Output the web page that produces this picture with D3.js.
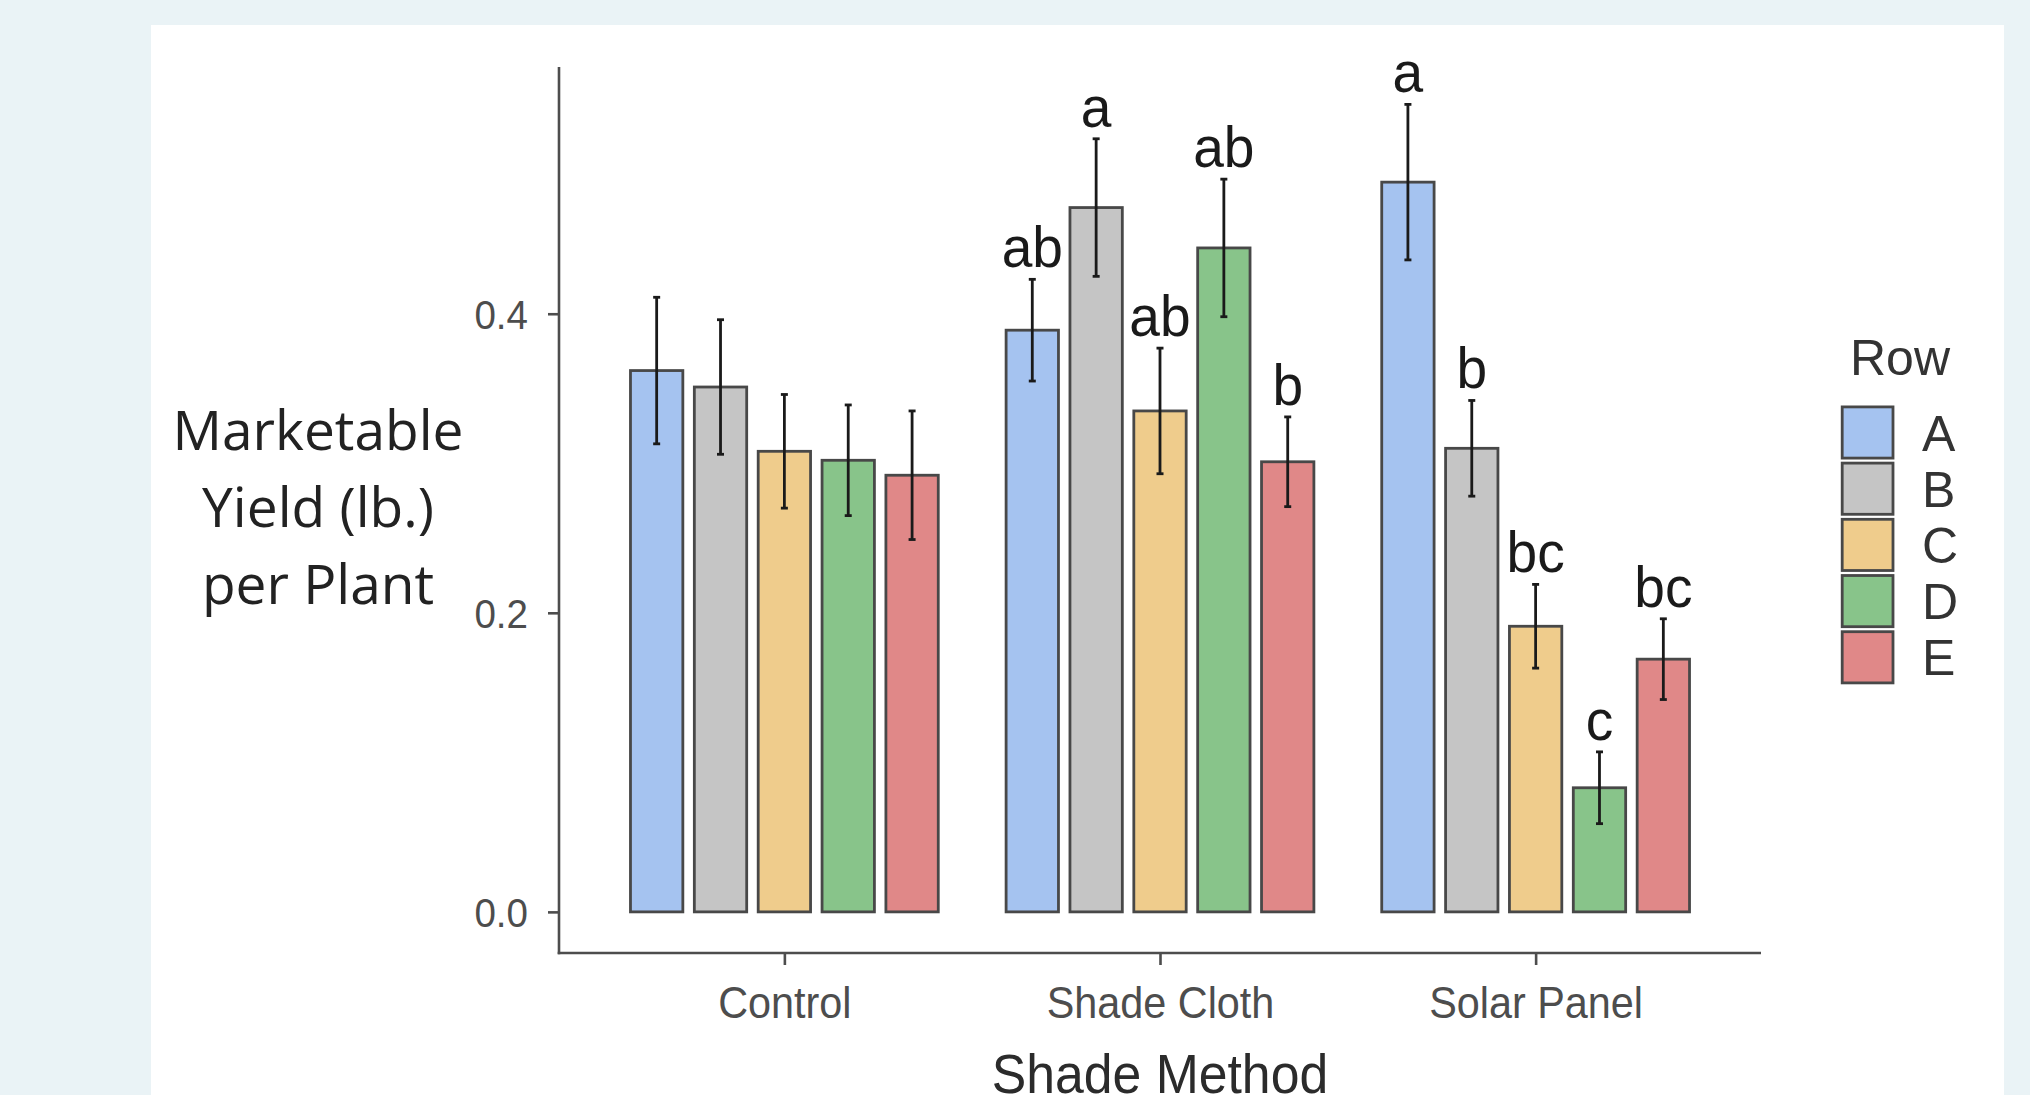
<!DOCTYPE html>
<html>
<head>
<meta charset="utf-8">
<script src="https://cdn.jsdelivr.net/npm/d3@7"></script>
<style>
  html, body { margin: 0; padding: 0; background: #EAF3F6; }
  svg { display: block; }
</style>
</head>
<body>
<svg id="chart" width="2030" height="1095"></svg>
<script>
// ---------------- data ----------------
const categories = ["Control", "Shade Cloth", "Solar Panel"];
const rows = ["A", "B", "C", "D", "E"];
const meanControl = [0.362, 0.351, 0.308, 0.302, 0.292];
const meanShadeCloth = [0.389, 0.471, 0.335, 0.444, 0.301];
const meanSolarPanel = [0.488, 0.310, 0.191, 0.083, 0.169];
const seControl = [0.049, 0.045, 0.038, 0.037, 0.043];
const seShadeCloth = [0.034, 0.046, 0.042, 0.046, 0.030];
const seSolarPanel = [0.052, 0.032, 0.028, 0.024, 0.027];
const lettersControl = ["", "", "", "", ""];
const lettersShadeCloth = ["ab", "a", "ab", "ab", "b"];
const lettersSolarPanel = ["a", "b", "bc", "c", "bc"];
const yTicks = [0.0, 0.2, 0.4];
const rowColors = ["#A5C3F0", "#C5C5C5", "#EFCC8C", "#88C48A", "#E08888"];

const means = [meanControl, meanShadeCloth, meanSolarPanel];
const ses = [seControl, seShadeCloth, seSolarPanel];
const letters = [lettersControl, lettersShadeCloth, lettersSolarPanel];

const data = [];
categories.forEach((c, i) => rows.forEach((r, j) => data.push({
  cat: c, row: r, mean: means[i][j], se: ses[i][j], letter: letters[i][j]
})));

// ---------------- layout ----------------
const svg = d3.select("#chart");
const panel = { x: 151, y: 25, w: 1853, h: 1100 };
const plot = { left: 559, right: 1761, top: 67, bottom: 953 };
const COND = 0.94;

svg.append("rect").attr("x", panel.x).attr("y", panel.y)
  .attr("width", panel.w).attr("height", panel.h).attr("fill", "#FFFFFF");

const x = d3.scalePoint().domain(categories).range([plot.left, plot.right]).padding(0.6);
const unit = x.step();
const xSub = d3.scaleBand().domain(rows).range([-0.425 * unit, 0.425 * unit]);
const barW = xSub.bandwidth() * 0.82;
const y = d3.scaleLinear().domain([-0.0275, 0.565]).range([plot.bottom, plot.top]);
const color = d3.scaleOrdinal().domain(rows).range(rowColors);

function condense(sel, f) {
  sel.each(function () {
    const n = this.getComputedTextLength();
    d3.select(this).attr("textLength", n * f).attr("lengthAdjust", "spacingAndGlyphs");
  });
}

// bars
const g = svg.append("g");
g.selectAll("rect.bar").data(data).enter().append("rect")
  .attr("class", "bar")
  .attr("x", d => x(d.cat) + xSub(d.row) + (xSub.bandwidth() - barW) / 2)
  .attr("width", barW)
  .attr("y", d => y(d.mean))
  .attr("height", d => y(0) - y(d.mean))
  .attr("fill", d => color(d.row))
  .attr("stroke", "#484848")
  .attr("stroke-width", 2.8);

// error bars
const cx = d => x(d.cat) + xSub(d.row) + xSub.bandwidth() / 2;
const eb = g.selectAll("g.eb").data(data).enter().append("g").attr("class", "eb")
  .attr("stroke", "#1A1A1A").attr("stroke-width", 2.8);
eb.append("line").attr("x1", cx).attr("x2", cx)
  .attr("y1", d => y(d.mean + d.se)).attr("y2", d => y(d.mean - d.se));
eb.append("line").attr("x1", d => cx(d) - 3.5).attr("x2", d => cx(d) + 3.5)
  .attr("y1", d => y(d.mean + d.se)).attr("y2", d => y(d.mean + d.se));
eb.append("line").attr("x1", d => cx(d) - 3.5).attr("x2", d => cx(d) + 3.5)
  .attr("y1", d => y(d.mean - d.se)).attr("y2", d => y(d.mean - d.se));

// letters
const lab = g.selectAll("text.letter").data(data.filter(d => d.letter)).enter().append("text")
  .attr("class", "letter")
  .attr("x", cx)
  .attr("y", d => y(d.mean + d.se) - 12)
  .attr("text-anchor", "middle")
  .attr("font-family", "'Liberation Sans', Arial, sans-serif")
  .attr("font-size", 58)
  .attr("fill", "#1A1A1A")
  .text(d => d.letter);
condense(lab, 0.95);

// axes
const axisColor = "#4D4D4D";
const yAxis = svg.append("g").attr("transform", `translate(${plot.left},0)`)
  .call(d3.axisLeft(y).tickValues(yTicks).tickFormat(d3.format(".1f")).tickSize(11).tickPadding(20));
const xAxis = svg.append("g").attr("transform", `translate(0,${plot.bottom})`)
  .call(d3.axisBottom(x).tickSize(12).tickPadding(22));
[yAxis, xAxis].forEach(a => {
  a.select(".domain").remove();
  a.selectAll(".tick line").attr("stroke", axisColor).attr("stroke-width", 2.6);
  a.selectAll(".tick text").attr("fill", axisColor)
    .attr("font-family", "'Liberation Sans', Arial, sans-serif");
});
yAxis.selectAll(".tick text").attr("font-size", 41).attr("dy", "0.36em");
condense(yAxis.selectAll(".tick text"), COND);
xAxis.selectAll(".tick text").attr("font-size", 44).attr("dy", "0.71em");
condense(xAxis.selectAll(".tick text"), COND);

svg.append("line").attr("x1", plot.left).attr("x2", plot.left)
  .attr("y1", plot.top).attr("y2", plot.bottom + 1.3)
  .attr("stroke", axisColor).attr("stroke-width", 2.6);
svg.append("line").attr("x1", plot.left - 1.3).attr("x2", plot.right)
  .attr("y1", plot.bottom).attr("y2", plot.bottom)
  .attr("stroke", axisColor).attr("stroke-width", 2.6);

// x title
const xt = svg.append("text")
  .attr("x", (plot.left + plot.right) / 2)
  .attr("y", 1093)
  .attr("text-anchor", "middle")
  .attr("font-family", "'Liberation Sans', Arial, sans-serif")
  .attr("font-size", 55)
  .attr("fill", "#2B2B2B")
  .text("Shade Method");
condense(xt, COND);

// y title
const yTitleLines = ["Marketable", "Yield (lb.)", "per Plant"];
svg.append("g").selectAll("text").data(yTitleLines).enter().append("text")
  .attr("x", 318)
  .attr("y", (d, i) => 450 + i * 77)
  .attr("text-anchor", "middle")
  .attr("font-family", "'Open Sans', 'Noto Sans', sans-serif")
  .attr("font-size", 55)
  .attr("fill", "#222222")
  .text(d => d);

// legend
const leg = svg.append("g").attr("transform", "translate(1841,0)");
leg.append("text").attr("x", 9).attr("y", 375)
  .attr("font-family", "'Liberation Sans', Arial, sans-serif")
  .attr("font-size", 50).attr("fill", "#333333").text("Row");
const keyStep = 56.2;
const li = leg.selectAll("g.key").data(rows).enter().append("g")
  .attr("transform", (d, i) => `translate(0,${432.5 + i * keyStep})`);
li.append("rect").attr("x", 1.2).attr("y", -25.6).attr("width", 50.8).attr("height", 51.2)
  .attr("fill", d => color(d)).attr("stroke", "#484848").attr("stroke-width", 2.8);
li.append("text").attr("x", 81).attr("y", 0).attr("dy", "0.36em")
  .attr("font-family", "'Liberation Sans', Arial, sans-serif")
  .attr("font-size", 50).attr("fill", "#333333").text(d => d);
</script>
</body>
</html>
